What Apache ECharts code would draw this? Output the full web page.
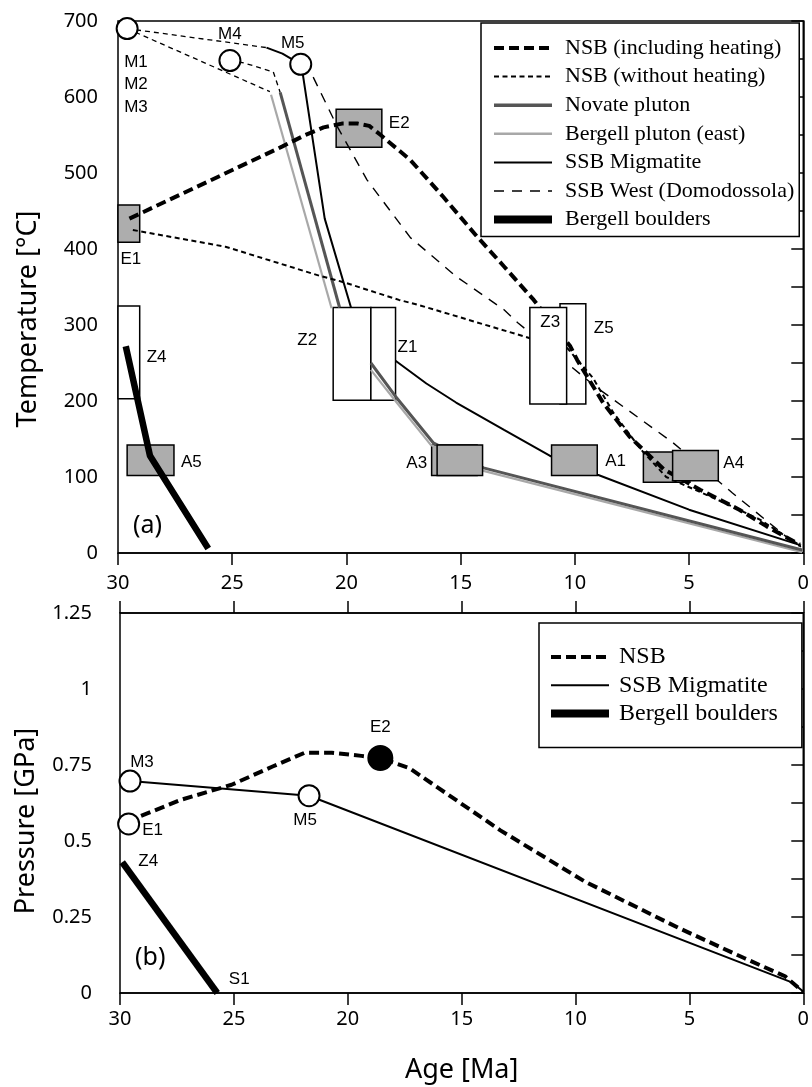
<!DOCTYPE html>
<html><head><meta charset="utf-8">
<script src="https://cdn.jsdelivr.net/npm/echarts@6/dist/echarts.min.js"></script>
<style>html,body{margin:0;padding:0;background:#fff}#c{width:812px;height:1087px}</style>
</head><body><div id="c"></div>
<script>
// ---------------- DATA ----------------
// axes
const ageRange = [0, 30], ageStep = 5;
const tempRange = [0, 700], tempStep = 100;
const presRange = [0, 1.25], presStep = 0.25;

// Panel (a): temperature-time paths  [age Ma, T °C]
const nsbHeating = [[29.5,440],[22.8,535],[21.8,550],[21,560],[20.2,565],[19.5,565],[19,562],[18.5,550],[17.2,517],[15.8,470],[14.3,417],[13.1,377],[11.8,333],[10.2,272],[9.9,254],[8.75,197],[7.6,153],[6.1,110],[4.5,83],[2.8,57],[1.6,35],[0.15,11]];
const nsbNoHeating = [[29.35,425],[25.3,403],[21.2,365],[20.2,357],[17.7,333],[16.8,326],[12,283],[10.4,272],[9.2,230],[8.3,184],[7.1,136],[6,100],[5.1,88],[3.6,68],[1.9,44],[0.15,10]];
const novateUpper = [[22.9,606],[20.3,323]];
const novateLower = [[18.93,250],[17.85,206],[16.2,145],[14.0,112],[0.05,4]];
const novateLink = [[25.1,648],[24.5,645],[23.2,633],[22.9,606]];
const bergellUpper = [[23.3,603],[20.65,322]];
const bergellLower = [[18.93,241],[17.8,198],[16.3,142],[14.0,108],[0.05,1]];
const bergellLink = [[29.6,690],[23.35,607]];
const ssbMigUpper = [[23.5,665],[22.8,657],[22.0,643],[21.9,628],[20.95,440],[19.8,323]];
const ssbMigLower = [[17.85,253],[16.5,223],[15.2,198],[13.1,162],[11.1,128],[9.0,103],[5.0,57],[0.1,10]];
const ssbMigLink = [[29.6,690],[23.5,665]];
const ssbWest = [[22.0,643],[21.5,629],[20.4,561],[19.1,491],[17.2,415],[15.2,364],[13.1,320],[12.5,303],[9.1,219],[5.7,145],[3.1,79],[0.4,13],[0.1,8]];
const bouldersT = [[29.66,272],[28.6,128],[26.05,6]];

// Panel (a): age/temperature boxes [label, older age, younger age, T low, T high]
const grayBoxes = [
  ['E1', 30, 29.05, 409, 458],
  ['E2', 20.45, 18.45, 534, 584],
  ['A5', 29.6, 27.55, 102, 142],
  ['', 16.27, 14.28, 102, 142],
  ['A3', 16.03, 14.04, 102, 142],
  ['A1', 11.02, 9.02, 102, 142],
  ['', 7.0, 4.96, 93, 133],
  ['A4', 5.72, 3.72, 95, 135]
];
const whiteBoxes = [
  ['Z4', 30, 29.05, 203, 325],
  ['Z2', 20.58, 18.93, 201, 323],
  ['Z1', 18.93, 17.85, 201, 323],
  ['Z5', 10.65, 9.52, 196, 328],
  ['Z3', 11.97, 10.36, 196, 323]
];
// Panel (a): open circles [label, age, T]
const circlesT = [['M1', 29.6, 690], ['M4', 25.1, 648], ['M5', 22.0, 643]];

// Panel (b): pressure-time paths [age Ma, P GPa]
const nsbP = [[29.62,0.556],[29.3,0.576],[27.3,0.636],[25.1,0.685],[23.3,0.745],[21.9,0.79],[20.7,0.79],[19.4,0.78],[18.57,0.773],[17.3,0.74],[13.3,0.535],[9.6,0.367],[5.5,0.215],[2.6,0.115],[0.8,0.055],[0.02,0.005]];
const ssbMigP = [[29.56,0.697],[21.7,0.649],[0.5,0.035],[0,0.005]];
const bouldersP = [[29.9,0.43],[25.73,0]];
const openCirclesP = [['M3', 29.56, 0.697], ['E1', 29.62, 0.556], ['M5', 21.7, 0.649]];
const filledCirclesP = [['E2', 18.57, 0.773]];
const boulderEndLabels = ['Z4', 'S1'];

// legends
const legendTop = ['NSB (including heating)', 'NSB (without heating)', 'Novate pluton', 'Bergell pluton (east)', 'SSB Migmatite', 'SSB West (Domodossola)', 'Bergell boulders'];
const legendBottom = ['NSB', 'SSB Migmatite', 'Bergell boulders'];

// ---------------- STYLES ----------------
const S = {
  'NSB (including heating)': {color:'#000', width:4, type:[10,5]},
  'NSB (without heating)': {color:'#000', width:2, type:[5,3.5]},
  'Novate pluton': {color:'#555', width:3, type:'solid'},
  'Bergell pluton (east)': {color:'#a8a8a8', width:2.2, type:'solid'},
  'SSB Migmatite': {color:'#000', width:2, type:'solid'},
  'SSB West (Domodossola)': {color:'#000', width:1.4, type:[10,8]},
  'Bergell boulders': {color:'#000', width:6.5, type:'solid'},
  'NSB': {color:'#000', width:4, type:[10,5]},
  'link': {color:'#000', width:1.3, type:[5,4]}
};
const legendWidth = {'Bergell boulders': 8, 'Novate pluton': 3.5, 'Bergell pluton (east)': 2.5};
const FRONT_BOXES = ['Z3', 'A3', 'A1', 'A4'];
const boxLabelPlace = {
  E1:['bottom',9,2], E2:['right',7,-5], A5:['right',7,2], A3:['left',10,3], A1:['right',8,1], A4:['right',5,-2],
  Z4:['right',7,5], Z2:['left',16,-14], Z1:['right',2,-7], Z5:['right',8,-26], Z3:['insideTop',6,2]
};
const circleLabel = {
  M1:{text:'M1\nM2\nM3', offset:[-3,56], align:'left'}, M4:{offset:[0,-26]}, M5:{offset:[-8,-21]}
};
const circleLabelP = {M3:{offset:[12,-19]}, E1:{offset:[24,6]}, M5:{offset:[-4,25]}, E2:{offset:[0,-31]}};
const endLabelOffset = {Z4:[26,-1], S1:[22,-14]};
const SANS = 'Noto Sans', LBL = 'Liberation Sans', SERIF = 'Liberation Serif';

// ---------------- BUILD ----------------
function line(name, data, sty, z, xi, yi) {
  const st = S[sty || name];
  return {type:'line', name, data, xAxisIndex:xi, yAxisIndex:yi, symbol:'none', showSymbol:false,
    z, silent:true, lineStyle:{color:st.color, width:st.width, type:st.type, cap:'butt'}, itemStyle:{color:st.color}};
}
function boxes(list, fill, front, z) {
  const items = list.filter(b => (FRONT_BOXES.indexOf(b[0]) >= 0) === front);
  return {
    type:'custom', name:'boxes', xAxisIndex:0, yAxisIndex:0, z, silent:true,
    data: items.map(b => ({name:b[0], value:[b[1], b[2], b[3], b[4]]})),
    renderItem: function (params, api) {
      const b = items[params.dataIndex];
      const p1 = api.coord([b[1], b[4]]), p2 = api.coord([b[2], b[3]]);
      const x = Math.min(p1[0], p2[0]), y = Math.min(p1[1], p2[1]);
      const w = Math.abs(p2[0] - p1[0]), h = Math.abs(p2[1] - p1[1]);
      const children = [{type:'rect', shape:{x, y, width:w, height:h},
        style:{fill, stroke:'#000', lineWidth:1.5}}];
      const pl = boxLabelPlace[b[0]];
      if (b[0] && pl) {
        let tx, ty, align = 'left', va = 'middle';
        if (pl[0] === 'right') { tx = x + w + pl[1]; ty = y + h / 2 + pl[2]; }
        else if (pl[0] === 'left') { tx = x - pl[1]; ty = y + h / 2 + pl[2]; align = 'right'; }
        else if (pl[0] === 'bottom') { tx = x + w / 2 + pl[2]; ty = y + h + pl[1]; align = 'center'; va = 'top'; }
        else { tx = x + w / 2 + pl[2]; ty = y + pl[1]; align = 'center'; va = 'top'; }
        children.push({type:'text', style:{text:b[0], x:tx, y:ty, fill:'#000', fontSize:17, fontFamily:LBL, align, verticalAlign:va}});
      }
      return {type:'group', children};
    }
  };
}
function circles(list, labels, filled, xi, yi, size) {
  return {type:'scatter', name:'markers', xAxisIndex:xi, yAxisIndex:yi, z:10, silent:true,
    symbol:'circle', symbolSize:size,
    itemStyle:{color: filled ? '#000' : '#fff', borderColor:'#000', borderWidth:2, opacity:1},
    data: list.map(c => {
      const l = labels[c[0]] || {};
      return {name:c[0], value:[c[1], c[2]], label:{show:true, position:'inside', formatter: l.text || c[0],
        offset:l.offset || [0,0], align:l.align || 'center', verticalAlign:'middle', color:'#000',
        fontSize:17, fontFamily:LBL, lineHeight:22.5}};
    })
  };
}

const endPts = [bouldersP[0], bouldersP[bouldersP.length - 1]];
const series = [
  boxes(grayBoxes, '#adadad', false, 1),
  boxes(whiteBoxes, '#fff', false, 1),
  line('lnk1', ssbMigLink, 'link', 2, 0, 0),
  line('lnk2', bergellLink, 'link', 2, 0, 0),
  line('lnk3', novateLink, 'link', 2, 0, 0),
  line('Bergell pluton (east)', bergellUpper, null, 3, 0, 0),
  line('Bergell pluton (east)', bergellLower, null, 3, 0, 0),
  line('Novate pluton', novateUpper, null, 3, 0, 0),
  line('Novate pluton', novateLower, null, 3, 0, 0),
  line('SSB Migmatite', ssbMigUpper, null, 3, 0, 0),
  line('SSB Migmatite', ssbMigLower, null, 3, 0, 0),
  line('SSB West (Domodossola)', ssbWest, null, 3, 0, 0),
  line('NSB (without heating)', nsbNoHeating, null, 3, 0, 0),
  line('NSB (including heating)', nsbHeating, null, 3, 0, 0),
  line('Bergell boulders', bouldersT, null, 3, 0, 0),
  boxes(whiteBoxes, '#fff', true, 5),
  boxes(grayBoxes, '#adadad', true, 5),
  circles(circlesT, circleLabel, false, 0, 0, 21),
  // panel (b)
  line('NSB', nsbP, null, 3, 1, 1),
  line('SSB Migmatite', ssbMigP, null, 3, 1, 1),
  line('Bergell boulders', bouldersP, null, 3, 1, 1),
  circles(openCirclesP, circleLabelP, false, 1, 1, 21),
  circles(filledCirclesP, circleLabelP, true, 1, 1, 24),
  {type:'scatter', name:'endLabels', xAxisIndex:1, yAxisIndex:1, z:2, silent:true, symbolSize:1,
    itemStyle:{color:'#000', opacity:1},
    data: endPts.map((p, i) => ({value:p, label:{show:true, position:'inside', formatter:boulderEndLabels[i],
      offset:endLabelOffset[boulderEndLabels[i]], color:'#000', opacity:1, fontSize:17, fontFamily:LBL,
      textBorderWidth:0}}))}
];

const axisLineS = {show:true, lineStyle:{color:'#000', width:1.5}};
const tickS = {show:true, inside:false, length:12, lineStyle:{color:'#000', width:1.5}};
const labelS = {color:'#000', fontSize:20, fontFamily:SANS};

function legendData(names) {
  return names.map(n => ({name:n, lineStyle:{color:S[n].color, width:legendWidth[n] || S[n].width, type:S[n].type}}));
}

const option = {
  animation:false,
  backgroundColor:'#fff',
  grid:[
    {left:118, top:21, width:686, height:532, show:true, borderColor:'#000', borderWidth:1.5, backgroundColor:'transparent'},
    {left:120, top:613, width:686, height:380, show:true, borderColor:'#000', borderWidth:1.5, backgroundColor:'transparent'}
  ],
  xAxis:[
    {gridIndex:0, type:'value', min:ageRange[0], max:ageRange[1], interval:ageStep, inverse:true, position:'bottom',
      axisLine:axisLineS, axisTick:tickS, axisLabel:Object.assign({margin:20}, labelS), splitLine:{show:false}},
    {gridIndex:1, type:'value', min:ageRange[0], max:ageRange[1], interval:ageStep, inverse:true, position:'bottom',
      axisLine:axisLineS, axisTick:tickS, axisLabel:Object.assign({margin:16}, labelS), splitLine:{show:false},
      name:'Age [Ma]', nameLocation:'middle', nameGap:64, nameTextStyle:{color:'#000', fontSize:27, fontFamily:SANS}},
    {gridIndex:1, type:'value', min:ageRange[0], max:ageRange[1], interval:ageStep, inverse:true, position:'top',
      axisLine:axisLineS, axisTick:tickS, axisLabel:{show:false}, splitLine:{show:false}}
  ],
  yAxis:[
    {gridIndex:0, type:'value', min:tempRange[0], max:tempRange[1], interval:tempStep,
      axisLine:axisLineS, axisTick:tickS, minorTick:{show:true, splitNumber:2, length:12, lineStyle:{color:'#000', width:1.5}},
      axisLabel:Object.assign({margin:20}, labelS), splitLine:{show:false}, minorSplitLine:{show:false},
      name:'Temperature [°C]', nameLocation:'middle', nameGap:76,
      nameTextStyle:{color:'#000', fontSize:27, fontFamily:SANS, padding:[0,64,0,0]}},
    {gridIndex:1, type:'value', min:presRange[0], max:presRange[1], interval:presStep,
      axisLine:axisLineS, axisTick:tickS, minorTick:{show:true, splitNumber:2, length:12, lineStyle:{color:'#000', width:1.5}},
      axisLabel:Object.assign({margin:28}, labelS), splitLine:{show:false}, minorSplitLine:{show:false},
      name:'Pressure [GPa]', nameLocation:'middle', nameGap:80,
      nameTextStyle:{color:'#000', fontSize:27, fontFamily:SANS, padding:[0,36,0,0]}}
  ],
  legend:[
    {orient:'vertical', left:481, top:23, padding:[13,5,5,9], itemWidth:58, itemHeight:10, itemGap:4.6,
      backgroundColor:'#fff', borderColor:'#000', borderWidth:1.5, selectedMode:false,
      textStyle:{fontFamily:SERIF, fontSize:22, color:'#000', lineHeight:24, padding:[0,0,0,8]},
      itemStyle:{color:'rgba(0,0,0,0)', borderColor:'rgba(0,0,0,0)', borderWidth:0},
      data:legendData(legendTop)},
    {orient:'vertical', left:539, top:623, padding:[22,24,22,8], itemWidth:58, itemHeight:10, itemGap:4.3,
      backgroundColor:'#fff', borderColor:'#000', borderWidth:1.5, selectedMode:false,
      textStyle:{fontFamily:SERIF, fontSize:24, color:'#000', lineHeight:24, padding:[0,0,0,5]},
      itemStyle:{color:'rgba(0,0,0,0)', borderColor:'rgba(0,0,0,0)', borderWidth:0},
      data:legendData(legendBottom)}
  ],
  graphic:[
    {type:'text', left:133, top:513, style:{text:'(a)', fontSize:25, fontFamily:SANS, fill:'#000'}, z:20},
    {type:'text', left:135, top:945, style:{text:'(b)', fontSize:25, fontFamily:SANS, fill:'#000'}, z:20}
  ],
  series
};
const chart = echarts.init(document.getElementById('c'), null, {renderer:'canvas'});
chart.setOption(option);
</script></body></html>
